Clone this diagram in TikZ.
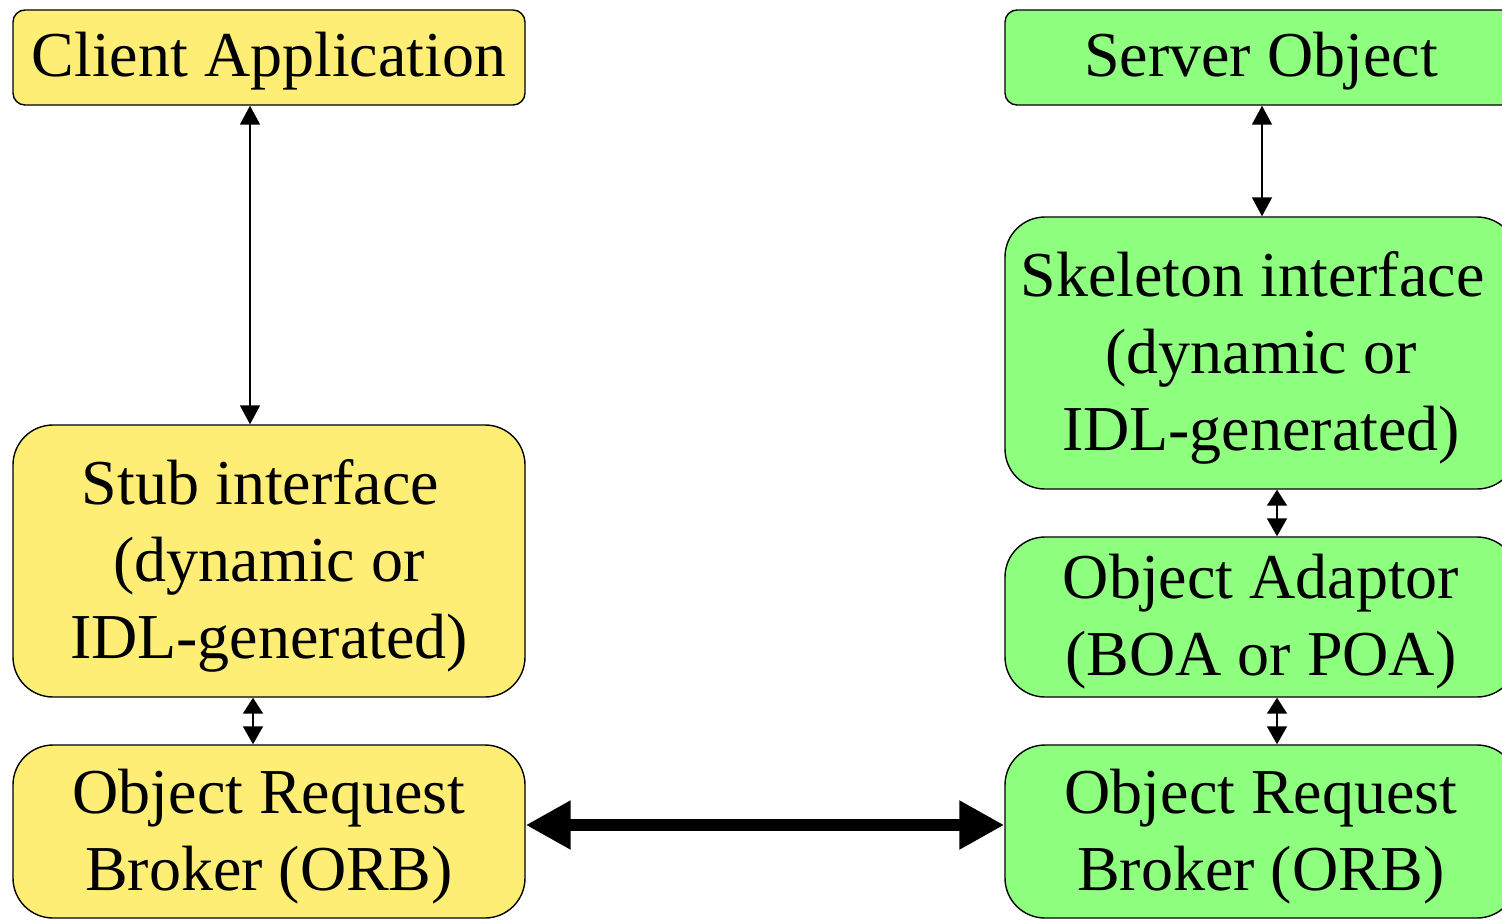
\documentclass[tikz,border=0pt]{standalone}
\usepackage{fontspec}
\setmainfont{Liberation Serif}
\usetikzlibrary{arrows.meta}
\definecolor{clientyellow}{RGB}{255,238,118}
\definecolor{servergreen}{RGB}{143,255,128}
\tikzset{
  box/.style={draw=black, line width=1.4pt, inner sep=0pt, minimum width=512pt},
  smallbox/.style={box, rounded corners=12pt, minimum height=95pt},
  bigbox/.style={box, rounded corners=40pt},
  ybox/.style={fill=clientyellow},
  gbox/.style={fill=servergreen},
  txt/.style={align=center, inner sep=0pt, font=\fontsize{64pt}{77pt}\selectfont},
  link/.style={line width=1.8pt, {Triangle[length=19pt,width=20pt]}-{Triangle[length=19pt,width=20pt]}},
  shortlink/.style={line width=1.8pt, {Triangle[length=16pt,width=20pt]}-{Triangle[length=18pt,width=20pt]}},
  orblink/.style={line width=12pt, {Triangle[length=45pt,width=46pt]}-{Triangle[length=45pt,width=46pt]}}
}
\begin{document}
\begin{tikzpicture}[x=1pt,y=-1pt]
  \useasboundingbox (0,0) rectangle (1502,919);
  \clip (0,0) rectangle (1502,919);

  % client side
  \node[smallbox, ybox] (client) at (269,57.5) {};
  \node[bigbox, ybox, minimum height=272pt] (stub) at (269,561) {};
  \node[bigbox, ybox, minimum height=173pt] (orbL) at (269,831.5) {};

  % server side
  \node[smallbox, gbox] (server) at (1261,57.5) {};
  \node[bigbox, gbox, minimum height=272pt] (skel) at (1261,353) {};
  \node[bigbox, gbox, minimum height=160pt] (adaptor) at (1261,617) {};
  \node[bigbox, gbox, minimum height=173pt] (orbR) at (1261,831.5) {};

  % box texts
  \node[txt] (clientT) at ([yshift=-4pt]client.center) {Client Application};
  \node[txt] (stubT) at ([yshift=-5pt]stub.center)
    {Stub interface\hspace*{17pt}\\(dynamic or\\IDL-generated)};
  \node[txt] (orbLT) at ([yshift=-5pt]orbL.center) {Object Request\\Broker (ORB)};
  \node[txt] (serverT) at ([yshift=-4pt]server.center) {Server Object};
  \node[txt] (skelT) at ([yshift=-5pt]skel.center)
    {Skeleton interface\hspace*{17pt}\\(dynamic or\\IDL-generated)};
  \node[txt] (adaptorT) at ([yshift=-5pt]adaptor.center) {Object Adaptor\\(BOA or POA)};
  \node[txt] (orbRT) at ([yshift=-5pt]orbR.center) {Object Request\\Broker (ORB)};

  % connectors
  \draw[link] ([xshift=-19pt]client.south) -- ([xshift=-19pt]stub.north);
  \draw[shortlink] ([xshift=-16pt]stub.south) -- ([xshift=-16pt]orbL.north);
  \draw[link] ([xshift=1pt]server.south) -- ([xshift=1pt]skel.north);
  \draw[shortlink] ([xshift=16pt]skel.south) -- ([xshift=16pt]adaptor.north);
  \draw[shortlink] ([xshift=16pt]adaptor.south) -- ([xshift=16pt]orbR.north);
  \draw[orblink] ([yshift=6.5pt]orbL.east) -- ([yshift=6.5pt]orbR.west);
\end{tikzpicture}
\end{document}
